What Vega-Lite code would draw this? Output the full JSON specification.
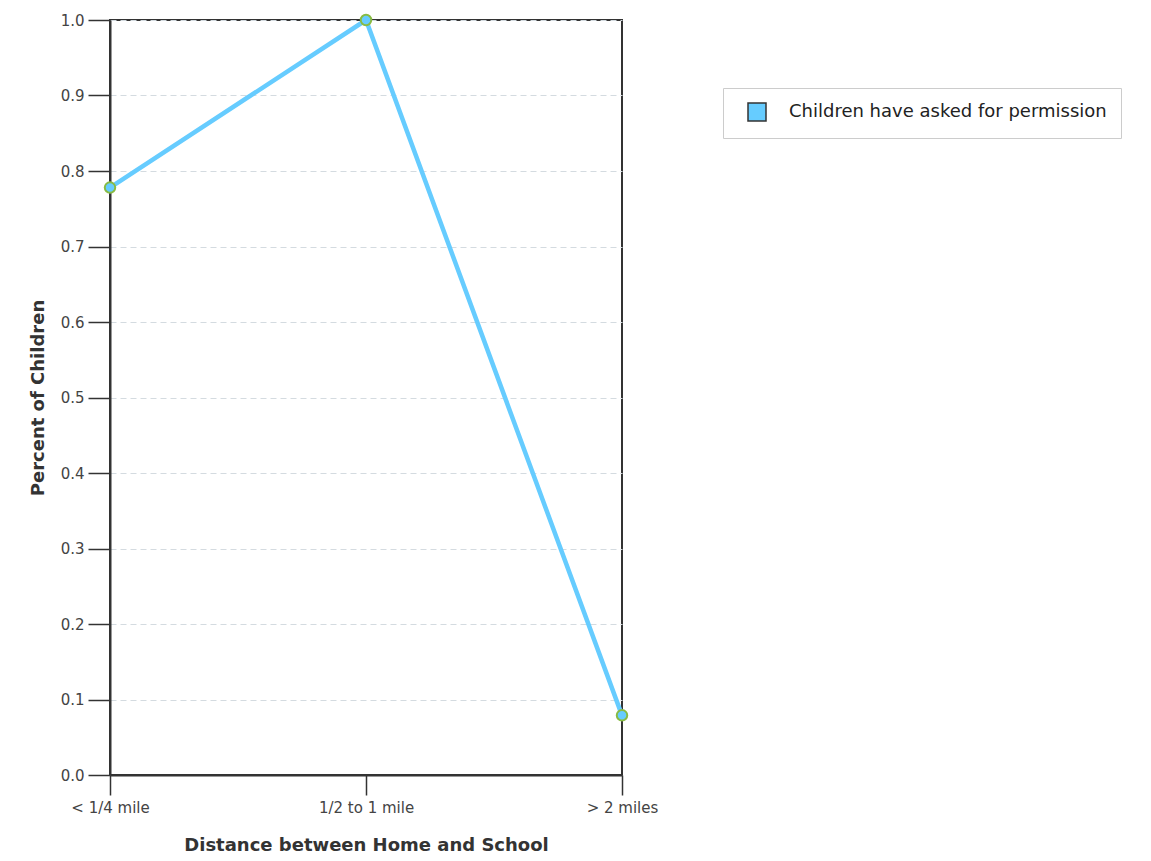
{
  "$schema": "https://vega.github.io/schema/vega-lite/v6.json",
  "width": 512,
  "height": 755,
  "autosize": {"type": "none"},
  "padding": {"left": 110, "top": 20, "right": 529, "bottom": 86},
  "background": "white",
  "config": {
    "font": "DejaVu Sans",
    "view": {"stroke": "#333", "strokeWidth": 2},
    "axis": {
      "labelFont": "DejaVu Sans",
      "titleFont": "DejaVu Sans",
      "labelColor": "#444",
      "titleColor": "#333",
      "domainColor": "#333",
      "domainWidth": 2,
      "tickColor": "#333",
      "tickWidth": 1.5
    }
  },
  "data": {
    "values": [
      {"distance": "< 1/4 mile", "pct": 0.778, "series": "Children have asked for permission"},
      {"distance": "1/2 to 1 mile", "pct": 1.0, "series": "Children have asked for permission"},
      {"distance": "> 2 miles", "pct": 0.079, "series": "Children have asked for permission"}
    ]
  },
  "encoding": {
    "x": {
      "field": "distance",
      "type": "ordinal",
      "sort": null,
      "scale": {"type": "point", "padding": 0},
      "axis": {
        "title": "Distance between Home and School",
        "labelAngle": 0,
        "labelFontSize": 15,
        "labelPadding": 5,
        "tickSize": 20,
        "titleFontSize": 18,
        "titleFontWeight": "bold",
        "titlePadding": 21,
        "grid": false
      }
    },
    "y": {
      "field": "pct",
      "type": "quantitative",
      "scale": {"domain": [0, 1]},
      "axis": {
        "title": "Percent of Children",
        "values": [0, 0.1, 0.2, 0.3, 0.4, 0.5, 0.6, 0.7, 0.8, 0.9, 1.0],
        "format": ".1f",
        "labelFontSize": 15,
        "labelPadding": 4,
        "tickSize": 22,
        "titleFontSize": 18,
        "titleFontWeight": "bold",
        "titlePadding": 13,
        "grid": true,
        "gridColor": "#d4dbe0",
        "gridDash": [6, 4],
        "gridWidth": 1
      }
    }
  },
  "layer": [
    {
      "mark": {"type": "line", "strokeWidth": 4.5, "color": "#66ccff"}
    },
    {
      "mark": {"type": "point", "filled": true, "size": 110, "opacity": 1, "shape": "circle"},
      "encoding": {
        "fill": {
          "field": "series",
          "type": "nominal",
          "scale": {"range": ["#66ccff"]},
          "legend": {
            "title": null,
            "orient": "none",
            "legendX": 613,
            "legendY": 68,
            "padding": 14,
            "strokeColor": "#cccccc",
            "fillColor": "white",
            "symbolType": "square",
            "symbolSize": 324,
            "symbolOffset": 10,
            "symbolStrokeColor": "#333",
            "symbolStrokeWidth": 1.5,
            "labelOffset": 22,
            "labelFontSize": 18,
            "labelColor": "#222",
            "labelLimit": 600
          }
        }
      }
    },
    {
      "mark": {"type": "point", "filled": true, "fill": "#66ccff", "stroke": "#88bb44", "strokeWidth": 2, "size": 110, "opacity": 1}
    }
  ]
}
